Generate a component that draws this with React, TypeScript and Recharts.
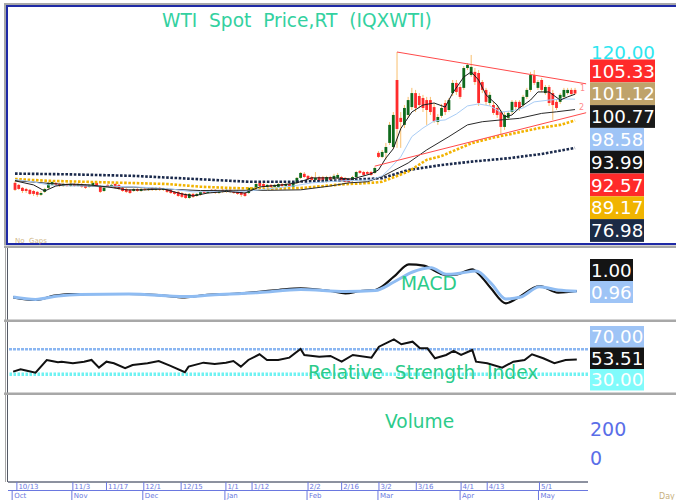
import React from 'react';
import { ComposedChart, Bar, Line, XAxis, YAxis, ReferenceLine } from 'recharts';

// ---- daily candles, oldest first ----
const opens = [
  61.5, 60.6, 59.3, 58.8, 58.4, 57.9, 57.5, 56.2, 57.5, 59.3,
  60.6, 61.5, 61.0, 60.1, 61.0, 60.1, 61.0, 60.1, 61.0, 60.6,
  59.7, 60.1, 61.5, 60.1, 57.9, 60.6, 60.1, 61.0, 60.6, 59.3,
  58.8, 58.4, 57.9, 58.8, 57.9, 58.8, 58.4, 59.3, 58.4, 59.3,
  58.4, 58.8, 58.4, 57.5, 57.5, 57.0, 56.6, 54.8, 56.6, 55.7,
  56.2, 57.9, 57.0, 58.4, 58.4, 57.0, 58.4, 57.5, 58.4, 57.9,
  57.9, 57.5, 57.0, 57.0, 58.4, 59.3, 61.5, 61.0, 59.7, 60.6,
  59.7, 59.7, 61.0, 60.1, 61.0, 59.7, 61.5, 63.7, 65.5, 64.6,
  64.1, 62.8, 64.1, 64.1, 61.9, 64.1, 63.2, 63.7, 64.1, 63.7,
  63.2, 62.4, 64.1, 66.8, 66.3, 66.3, 66.3, 65.9, 74.8, 73.0,
  74.8, 79.2, 77.4, 107.1, 90.3, 87.2, 91.6, 95.1, 101.3, 100.0,
  99.1, 98.2, 98.2, 95.1, 88.5, 91.2, 96.9, 93.8, 101.3, 105.8,
  104.0, 103.6, 112.4, 109.3, 110.7, 110.2, 106.2, 102.7, 96.9, 96.0,
  94.7, 92.9, 86.3, 90.3, 92.9, 97.4, 97.4, 96.0, 99.6, 102.7,
  109.3, 103.6, 107.1, 101.3, 104.0, 101.3, 97.4, 97.4, 99.6, 101.3,
  102.7, 102.7,
];
const highs = [
  62.4, 61.0, 59.7, 59.3, 58.8, 58.4, 57.9, 57.9, 59.3, 61.9,
  62.4, 61.9, 61.5, 61.5, 61.5, 61.9, 61.5, 61.5, 61.5, 61.0,
  61.0, 61.9, 61.9, 60.6, 59.7, 61.0, 61.0, 61.5, 61.0, 59.7,
  59.3, 58.8, 59.3, 59.3, 59.3, 59.3, 59.3, 59.7, 59.7, 59.7,
  59.3, 59.3, 58.8, 57.9, 57.9, 57.5, 57.0, 57.0, 57.0, 57.0,
  57.9, 58.4, 58.4, 58.8, 58.8, 58.4, 58.8, 58.8, 58.8, 58.4,
  58.4, 57.9, 57.5, 59.7, 59.7, 61.5, 61.9, 61.5, 61.0, 61.0,
  61.0, 61.5, 61.5, 61.5, 61.5, 62.4, 64.1, 66.3, 66.3, 65.0,
  64.6, 66.3, 64.6, 64.6, 64.6, 64.6, 65.5, 65.9, 64.6, 64.1,
  63.7, 64.6, 66.8, 67.2, 66.8, 66.8, 66.8, 68.6, 75.6, 76.1,
  79.2, 88.5, 92.9, 119.5, 92.9, 96.0, 99.6, 103.6, 102.7, 101.3,
  100.5, 99.6, 99.6, 96.9, 92.0, 96.5, 98.2, 99.1, 107.1, 107.1,
  105.3, 113.3, 114.6, 118.2, 112.4, 111.5, 107.1, 103.6, 101.8, 97.4,
  96.0, 93.8, 92.9, 93.4, 98.2, 98.2, 98.2, 100.5, 103.6, 110.7,
  111.5, 107.1, 108.0, 104.9, 104.9, 102.7, 98.2, 101.3, 103.6, 103.6,
  103.6, 103.6,
];
const lows = [
  57.9, 58.4, 57.0, 57.0, 56.2, 55.7, 55.3, 55.7, 57.0, 58.8,
  60.1, 60.1, 59.7, 59.7, 59.7, 59.7, 59.7, 59.7, 59.3, 58.8,
  59.3, 59.7, 59.7, 57.0, 57.5, 59.7, 59.7, 58.8, 58.4, 57.5,
  57.0, 56.6, 57.5, 57.5, 57.5, 57.9, 57.9, 57.9, 57.9, 57.9,
  57.9, 57.0, 56.6, 56.2, 55.3, 54.8, 54.4, 54.4, 54.8, 55.3,
  55.7, 56.6, 56.6, 57.0, 56.6, 56.6, 57.0, 57.0, 57.0, 56.6,
  56.2, 55.3, 55.3, 56.6, 57.9, 58.8, 59.7, 59.3, 59.3, 59.3,
  59.3, 59.3, 59.7, 59.7, 59.7, 59.3, 61.0, 63.2, 63.7, 62.8,
  62.4, 62.4, 61.9, 62.4, 61.5, 62.4, 62.8, 63.2, 61.9, 61.5,
  61.5, 61.9, 63.7, 65.5, 64.6, 65.0, 64.6, 65.5, 72.5, 72.5,
  71.7, 78.3, 76.5, 77.0, 77.0, 85.8, 90.3, 93.8, 92.9, 94.7,
  92.9, 87.2, 91.6, 88.1, 87.2, 90.3, 91.6, 92.9, 100.0, 100.5,
  98.7, 102.7, 111.5, 108.4, 104.9, 95.6, 101.3, 96.0, 95.6, 91.6,
  90.3, 82.7, 85.0, 89.4, 92.0, 93.8, 93.4, 95.1, 98.7, 101.8,
  104.9, 102.7, 101.8, 100.5, 95.6, 89.4, 93.8, 96.5, 98.7, 100.5,
  100.0, 100.5,
];
const closes = [
  58.4, 58.8, 57.9, 57.9, 56.6, 56.6, 56.2, 57.0, 58.8, 61.5,
  61.9, 60.6, 60.1, 61.0, 60.1, 61.0, 60.1, 61.0, 59.7, 59.3,
  60.6, 61.5, 60.1, 57.5, 59.3, 60.1, 60.6, 59.3, 58.8, 57.9,
  57.5, 57.0, 58.8, 57.9, 58.8, 58.4, 58.8, 58.4, 59.3, 58.4,
  58.8, 57.5, 57.0, 56.6, 55.7, 55.3, 54.8, 56.6, 55.3, 56.6,
  57.5, 57.0, 57.9, 57.5, 57.0, 57.9, 57.5, 58.4, 57.5, 57.0,
  56.6, 56.2, 55.7, 59.3, 59.3, 61.0, 60.1, 59.7, 60.6, 59.7,
  60.6, 61.0, 60.1, 61.0, 60.1, 61.9, 63.7, 65.9, 64.1, 63.2,
  62.8, 63.7, 62.4, 62.8, 64.1, 62.8, 64.6, 65.0, 62.4, 61.9,
  61.9, 64.1, 66.3, 65.9, 65.0, 65.5, 65.0, 68.1, 73.0, 75.2,
  77.4, 87.2, 91.6, 85.4, 88.5, 94.7, 98.2, 101.3, 94.7, 96.0,
  94.7, 93.8, 92.9, 88.9, 90.7, 94.7, 92.9, 98.2, 105.8, 101.8,
  99.6, 112.4, 113.8, 112.9, 106.2, 96.9, 102.7, 97.4, 100.5, 92.5,
  91.6, 86.3, 91.6, 92.5, 97.4, 95.1, 94.7, 99.6, 102.7, 109.3,
  105.8, 106.2, 102.7, 104.0, 96.9, 96.0, 94.7, 100.5, 102.7, 102.7,
  100.9, 101.1,
];

// ---- moving averages / trend lines read at [day, value] ----
const ma10: [number, number][] = [
  [0, 62.4], [5, 60.6], [8, 57.9], [11, 60.1], [15, 61.0], [20, 60.6], [25, 59.7], [30, 58.4],
  [35, 58.4], [40, 58.8], [45, 56.6], [48, 55.7], [52, 57.0], [57, 57.7], [62, 57.0], [66, 59.7],
  [72, 60.6], [76, 61.5], [80, 63.7], [86, 63.7], [91, 63.2], [96, 65.5], [98, 67.2], [100, 72.5],
  [102, 76.6], [104, 85.5], [107, 92.9], [110, 96.0], [113, 96.9], [116, 95.1], [118, 101.3],
  [121, 108.4], [123, 110.7], [125, 107.1], [127, 100.5], [130, 96.0], [132, 90.7], [134, 91.6],
  [136, 94.7], [139, 98.2], [141, 101.8], [144, 101.8], [147, 98.2], [149, 99.6], [151, 100.8],
];
const ma20: [number, number][] = [
  [0, 63.0], [5, 61.9], [9, 60.6], [15, 60.1], [25, 60.1], [35, 59.5], [42, 58.8], [48, 57.5],
  [55, 57.7], [62, 57.7], [68, 58.8], [75, 60.1], [80, 61.5], [88, 62.4], [96, 62.8], [99, 64.6],
  [101, 67.7], [104, 73.0], [107, 82.0], [110, 85.8], [113, 88.9], [116, 89.4], [119, 92.0],
  [122, 95.6], [125, 96.5], [128, 95.6], [131, 92.9], [134, 93.4], [137, 94.7], [140, 97.4],
  [144, 98.2], [148, 98.7], [151, 98.6],
];
const ma50: [number, number][] = [
  [0, 62.5], [9, 61.3], [23, 59.8], [32, 59.6], [41, 58.7], [50, 58.1], [59, 58.2], [68, 58.2],
  [77, 58.4], [85, 60.1], [90, 61.5], [95, 62.0], [99, 64.3], [106, 70.3], [111, 76.1], [117, 82.0],
  [122, 87.2], [126, 88.6], [131, 89.4], [136, 90.1], [142, 92.3], [146, 93.0], [151, 94.0],
];
const ma100: [number, number][] = [
  [0, 63.2], [9, 62.4], [23, 61.8], [41, 61.0], [50, 59.8], [59, 59.2], [68, 58.9], [77, 59.2],
  [88, 60.8], [97, 61.6], [99, 62.0], [106, 66.5], [111, 71.7], [115, 73.4], [123, 79.0],
  [129, 81.6], [133, 82.9], [141, 85.7], [147, 87.2], [151, 89.2],
];
const ma200: [number, number][] = [
  [0, 65.6], [14, 65.3], [32, 64.6], [50, 63.1], [63, 62.0], [75, 62.0], [88, 62.6], [99, 63.6],
  [106, 67.2], [115, 69.4], [123, 70.9], [133, 72.4], [142, 74.3], [151, 77.0],
];
const trendUpper: [number, number][] = [[103, 119.5], [154, 105.4]];
const trendLower: [number, number][] = [[97, 68.9], [154, 92.6]];

// ---- MACD and RSI ----
const macdLine: [number, number][] = [
  [0, -0.05], [6, -0.5], [11, 0.22], [15, 0.5], [23, 0.5], [31, 0.5], [39, 0.33], [46, -0.05],
  [52, 0.38], [58, 0.5], [66, 0.88], [71, 1.17], [77, 1.45], [85, 1.0], [89, 0.62], [93, 1.0],
  [97, 1.17], [102, 3.38], [106, 5.45], [110, 5.22], [116, 3.67], [119, 3.78], [123, 4.62],
  [125, 3.67], [128, 1.45], [132, -1.05], [135, -0.22], [141, 1.83], [146, 0.72], [151, 1.0],
];
const signalLine: [number, number][] = [
  [0, 0], [6, -0.4], [12, 0.17], [18, 0.42], [31, 0.5], [46, 0.08], [53, 0.33], [66, 0.75],
  [77, 1.25], [89, 0.92], [97, 1.08], [102, 2.5], [107, 4.17], [112, 4.88], [116, 3.78],
  [120, 4.0], [124, 4.33], [128, 2.33], [132, -0.33], [136, 0], [141, 1.72], [146, 1.17], [151, 0.96],
];
const rsiLine: [number, number][] = [
  [0, 34.2], [2, 38], [4, 35.3], [6, 32.6], [9, 52.9], [10, 51.8], [12, 49.2], [13, 50.2],
  [16, 47.6], [19, 50.2], [21, 52.9], [23, 40.6], [25, 50.2], [27, 47.6], [30, 39.6], [32, 44.9],
  [36, 47.6], [39, 51.3], [42, 43.8], [46, 33.2], [47, 42.2], [51, 48.6], [54, 46.5], [57, 48.6],
  [59, 51.3], [61, 42.2], [63, 52.9], [66, 62], [68, 52.9], [71, 52.9], [74, 56.6], [77, 70.5],
  [78, 60.9], [82, 58.2], [85, 59.3], [88, 50.2], [91, 60.9], [96, 56.6], [98, 74.2], [102, 86],
  [104, 78], [107, 82.2], [109, 71.6], [111, 71.6], [113, 55.6], [116, 60.9], [118, 67.3],
  [120, 60.9], [123, 68.9], [124, 50.2], [127, 47.6], [131, 40.6], [134, 50.2], [137, 52.9],
  [139, 62], [142, 55.6], [145, 47.6], [148, 52.9], [151, 53.5],
];

// ---- date axis ----
const tickDays = [1, 16, 25, 35, 45, 57, 64, 79, 88, 98, 108, 120, 127, 141];
const tickLabels = ['10/13', '11/3', '11/17', '12/1', '12/15', '1/1', '1/12', '2/2', '2/16', '3/2', '3/16', '4/1', '4/13', '5/1'];
const monthDays = [0, 16, 35, 57, 79, 98, 120, 141];
const monthLabels = ['Oct', 'Nov', 'Dec', 'Jan', 'Feb', 'Mar', 'Apr', 'May'];

// ---- right-hand value boxes ----
const priceTags = ['105.33', '101.12', '100.77', '98.58', '93.99', '92.57', '89.17', '76.98'];
const priceTagColors = ['#ff2a2a', '#bfa36b', '#1a1a1a', '#9ec4f6', '#141414', '#ff2a2a', '#f0b400', '#1b2a45'];
const macdTags = ['1.00', '0.96'];
const macdTagColors = ['#141414', '#9ec4f6'];
const rsiTags = ['70.00', '53.51', '30.00'];
const rsiTagColors = ['#9ec4f6', '#141414', '#80fbfb'];

const DAYS = 155;
const PAD = { left: 5.15, right: 0 };
const MARGIN_X = { left: 8, right: 88 };
const RED = '#ff2b2b';
const GREEN = '#0f6a1c';
const WICK = '#f8bf6e';
const AXIS = '#1b2440';
const FONT = '"DejaVu Sans", Verdana, sans-serif';
const LABEL_GREEN = '#2ccb8a';

const days = Array.from({ length: DAYS }, (_, i) => i);
const at = (pts: [number, number][]) => new Map(pts);
const rangeTicks = (from: number, to: number, step: number) => {
  const out: number[] = [];
  for (let v = from; v <= to + 1e-9; v += step) out.push(v);
  return out;
};

const m10 = at(ma10), m20 = at(ma20), m50 = at(ma50), m100 = at(ma100), m200 = at(ma200);
const tu = at(trendUpper), tl = at(trendLower);
const mc = at(macdLine), sg = at(signalLine), rs = at(rsiLine);

const priceRows = days.map((i) => ({
  i,
  o: opens[i], h: highs[i], l: lows[i], c: closes[i],
  ma10: m10.get(i), ma20: m20.get(i), ma50: m50.get(i), ma100: m100.get(i), ma200: m200.get(i),
  tu: tu.get(i), tl: tl.get(i),
}));
const macdRows = days.map((i) => ({ i, macd: mc.get(i), sig: sg.get(i) }));
const rsiRows = days.map((i) => ({ i, rsi: rs.get(i) }));
const volRows = days.map((i) => ({ i, vol: undefined as number | undefined }));

const Candle = (props: any) => {
  const { x, y, width, height, payload } = props;
  if (!payload || payload.o == null || !isFinite(y)) return <g />;
  const top = Math.min(y, y + height);
  const span = Math.abs(height);
  const range = payload.h - payload.l || 1;
  const yOf = (v: number) => top + ((payload.h - v) / range) * span;
  const cx = x + width / 2;
  const up = payload.c >= payload.o;
  const bt = yOf(Math.max(payload.o, payload.c));
  const bb = yOf(Math.min(payload.o, payload.c));
  return (
    <g>
      <line x1={cx} x2={cx} y1={top} y2={top + span} stroke={WICK} strokeWidth={1} />
      <rect x={cx - 1.4} y={bt} width={2.8} height={Math.max(1, bb - bt)} fill={up ? GREEN : RED} />
    </g>
  );
};

const DateTick = (props: any) => {
  const { x, payload } = props;
  const d = payload.value as number;
  const ti = tickDays.indexOf(d);
  const mi = monthDays.indexOf(d);
  const axisY = 87;
  return (
    <g>
      {ti >= 0 && (
        <g>
          <line x1={x} x2={x} y1={axisY} y2={axisY + 8} stroke="#6a78e0" />
          <text x={x + 1.5} y={axisY + 7} fontSize={7} fill="#6a78e0" fontFamily={FONT}>{tickLabels[ti]}</text>
        </g>
      )}
      {mi >= 0 && (
        <g>
          <line x1={x - 1} x2={x - 1} y1={axisY + 8} y2={axisY + 18} stroke="#6a78e0" />
          <text x={x + 1} y={axisY + 16} fontSize={7} fill="#6a78e0" fontFamily={FONT}>{monthLabels[mi]}</text>
        </g>
      )}
    </g>
  );
};

const sideAxes = (domain: [number, number], ticks: number[]) => [
  <YAxis key="r" yAxisId="r" orientation="right" domain={domain} allowDataOverflow ticks={ticks} width={0}
    mirror tickSize={3} tickFormatter={() => ''} axisLine={{ stroke: AXIS }} tickLine={{ stroke: AXIS }} />,
  <YAxis key="l" yAxisId="l" orientation="left" domain={domain} allowDataOverflow ticks={ticks} width={0}
    mirror tickSize={3} tickFormatter={() => ''} axisLine={false} tickLine={{ stroke: '#56627e' }} />,
];

const lineProps = { yAxisId: 'r', dot: false, connectNulls: true, isAnimationActive: false, activeDot: false } as const;

const Tags = ({ top, labels, colors, widths, h }: { top: number; labels: string[]; colors: string[]; widths: number[]; h: number }) => (
  <g>
    {labels.map((t, k) => (
      <g key={t + k}>
        <rect x={590} y={top + k * h} width={widths[k]} height={h} fill={colors[k]} />
        <text x={591} y={top + k * h + h / 2 + 6.7} fontSize={18.3} fill="#ffffff" fontFamily={FONT}>{t}</text>
      </g>
    ))}
  </g>
);

export default function App() {
  return (
    <div style={{ position: 'absolute', left: 0, top: 0, width: 676, height: 500, background: '#fff', overflow: 'hidden' }}>
      <div style={{ position: 'absolute', left: 0, top: 0 }}>
        <ComposedChart width={676} height={250} data={priceRows} margin={{ top: 6, bottom: 6, ...MARGIN_X }}>
          <XAxis dataKey="i" type="category" hide padding={PAD} />
          {sideAxes([34.4, 139.9], rangeTicks(36, 138, 2))}
          <Line {...lineProps} dataKey="ma200" stroke="#1b2a4c" strokeWidth={2.6} strokeDasharray="2.6 1.6" />
          <Line {...lineProps} dataKey="ma100" stroke="#f2b300" strokeWidth={2.6} strokeDasharray="2.6 1.6" />
          <Bar yAxisId="r" dataKey={(d: any) => (d.h == null ? undefined : [d.l, d.h])} shape={(p: any) => <Candle {...p} />} isAnimationActive={false} />
          <Line {...lineProps} dataKey="ma50" stroke="#2a2a2a" strokeWidth={1} />
          <Line {...lineProps} dataKey="ma20" stroke="#a9cdf6" strokeWidth={1} />
          <Line {...lineProps} dataKey="ma10" stroke="#1e1e1e" strokeWidth={1} />
          <Line {...lineProps} dataKey="tu" stroke="#ff4a4a" strokeWidth={1} />
          <Line {...lineProps} dataKey="tl" stroke="#ff4a4a" strokeWidth={1} />
        </ComposedChart>
      </div>
      <div style={{ position: 'absolute', left: 0, top: 248 }}>
        <ComposedChart width={676} height={72} data={macdRows} margin={{ top: 0, bottom: 0, ...MARGIN_X }}>
          <XAxis dataKey="i" type="category" hide padding={PAD} />
          {sideAxes([-3.83, 8.17], rangeTicks(-3, 8, 1))}
          <Line {...lineProps} dataKey="macd" type="monotone" stroke="#111111" strokeWidth={2.2} />
          <Line {...lineProps} dataKey="sig" type="monotone" stroke="#8fbcf2" strokeWidth={3} />
        </ComposedChart>
      </div>
      <div style={{ position: 'absolute', left: 0, top: 322 }}>
        <ComposedChart width={676} height={71} data={rsiRows} margin={{ top: 0, bottom: 0, ...MARGIN_X }}>
          <XAxis dataKey="i" type="category" hide padding={PAD} />
          {sideAxes([0, 113.7], rangeTicks(0, 110, 10))}
          <ReferenceLine yAxisId="r" y={70} stroke="#8ab6f2" strokeWidth={2.5} strokeDasharray="3 1" />
          <ReferenceLine yAxisId="r" y={30} stroke="#6ff2f2" strokeWidth={3.5} strokeDasharray="2.5 1.5" />
          <Line {...lineProps} dataKey="rsi" stroke="#111111" strokeWidth={2} />
        </ComposedChart>
      </div>
      <div style={{ position: 'absolute', left: 0, top: 395 }}>
        <ComposedChart width={676} height={105} data={volRows} margin={{ top: 0, bottom: 0, ...MARGIN_X }}>
          <XAxis dataKey="i" type="category" interval={0} padding={PAD} height={18}
            axisLine={{ stroke: AXIS }} tickLine={false} tick={(p: any) => <DateTick {...p} />} />
          {sideAxes([-147, 433], rangeTicks(-140, 420, 40))}
          <Line {...lineProps} dataKey="vol" stroke="none" />
        </ComposedChart>
      </div>

      <svg width={676} height={500} style={{ position: 'absolute', left: 0, top: 0, pointerEvents: 'none' }}>
        {/* frame */}
        <rect x={4} y={3} width={672} height={2} fill="#a8a8a8" />
        <rect x={6} y={5} width={670} height={2} fill="#1f2aa6" />
        <rect x={4} y={3} width={2} height={242} fill="#a8a8a8" />
        <rect x={6} y={5} width={2} height={239} fill="#1f2aa6" />
        <rect x={6} y={243} width={670} height={2} fill="#1f2aa6" />
        <rect x={4} y={245.5} width={672} height={2.5} fill="#a8a8a8" />
        <rect x={5} y={248} width={1} height={234} fill="#a8a8a8" />
        <rect x={7} y={248} width={1} height={234} fill="#555a66" />
        <rect x={4} y={319.5} width={672} height={2.5} fill="#a8a8a8" />
        <rect x={4} y={392.5} width={672} height={2.5} fill="#a8a8a8" />
        <rect x={8} y={490} width={580} height={1} fill="#6a78e0" />

        {/* titles */}
        <text x={162} y={26.7} fontSize={18.6} fill="#33d1a0" fontFamily={FONT} style={{ whiteSpace: 'pre' }}>{'WTI  Spot  Price,RT  (IQXWTI)'}</text>
        <text x={401} y={290} fontSize={18.6} fill={LABEL_GREEN} fontFamily={FONT}>MACD</text>
        <text x={308} y={379} fontSize={18.6} fill={LABEL_GREEN} fontFamily={FONT} style={{ whiteSpace: 'pre' }}>{'Relative  Strength  Index'}</text>
        <text x={385} y={427.7} fontSize={18.6} fill={LABEL_GREEN} fontFamily={FONT}>Volume</text>
        <text x={15} y={243} fontSize={7} fill="#d2b98a" fontFamily={FONT} style={{ whiteSpace: 'pre' }}>{'No  Gaps'}</text>
        <text x={580} y={91} fontSize={8} fill="#ff8a8a" fontFamily={FONT}>1</text>
        <text x={579} y={110} fontSize={8} fill="#ff8a8a" fontFamily={FONT}>2</text>

        {/* value boxes */}
        <text x={591} y={58.6} fontSize={18.3} fill="#2ee6f0" fontFamily={FONT}>120.00</text>
        <Tags top={59.5} labels={priceTags} colors={priceTagColors} widths={[65, 65, 65, 54, 54, 54, 54, 54]} h={22.8} />
        <Tags top={259} labels={macdTags} colors={macdTagColors} widths={[43, 43]} h={22} />
        <Tags top={326} labels={rsiTags} colors={rsiTagColors} widths={[54, 54, 54]} h={21.5} />
        <text x={590} y={436} fontSize={19} fill="#5a6ee8" fontFamily={FONT}>200</text>
        <text x={590} y={465} fontSize={19} fill="#5a6ee8" fontFamily={FONT}>0</text>
        <text x={659} y={499} fontSize={8} fill="#c8b080" fontFamily={FONT}>Day</text>
      </svg>
    </div>
  );
}
